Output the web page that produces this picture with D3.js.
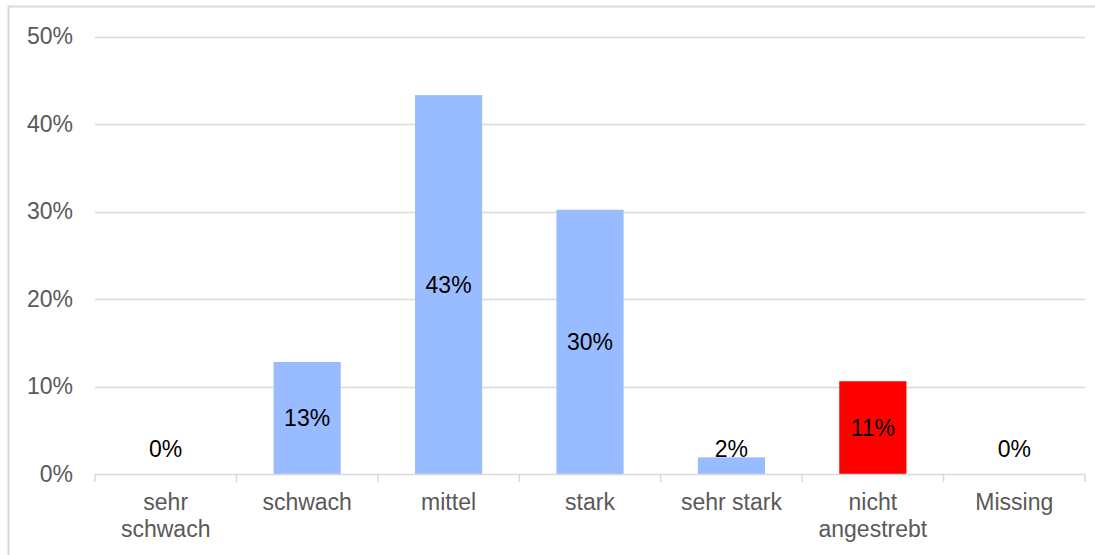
<!DOCTYPE html>
<html>
<head>
<meta charset="utf-8">
<script src="https://cdn.jsdelivr.net/npm/d3@7/dist/d3.min.js"></script>
<style>
  html, body { margin: 0; padding: 0; background: #fff; }
  svg { display: block; font-family: "Liberation Sans", Arial, sans-serif; }
</style>
</head>
<body>
<svg id="chart" width="1095" height="555"></svg>
<script>
// Share of responses per category
const categories = ["sehr schwach", "schwach", "mittel", "stark", "sehr stark", "nicht angestrebt", "Missing"];
const categoryLines = [["sehr", "schwach"], ["schwach"], ["mittel"], ["stark"], ["sehr stark"], ["nicht", "angestrebt"], ["Missing"]];
const shares = [0, 0.128, 0.433, 0.302, 0.019, 0.106, 0];
const highlighted = ["nicht angestrebt"];
const yTicks = [0, 0.1, 0.2, 0.3, 0.4, 0.5];

const svg = d3.select("#chart");
const W = 1095, H = 555;
const plot = { left: 95, right: 1085, top: 36.5, bottom: 474 };
const fontSize = 23;

// outer frame
svg.append("rect")
  .attr("x", 8.5).attr("y", 6.5)
  .attr("width", W + 10).attr("height", H + 10)
  .attr("fill", "none").attr("stroke", "#d9d9d9").attr("stroke-width", 2);

const x = d3.scaleBand().domain(categories).range([plot.left, plot.right])
  .paddingInner(0.525).paddingOuter(0.2625);
const y = d3.scaleLinear().domain([0, 0.5]).range([plot.bottom, plot.top]);
const fmt = d3.format(".0%");

// horizontal gridlines
svg.append("g").selectAll("line")
  .data(yTicks.filter(d => d > 0))
  .join("line")
  .attr("x1", plot.left).attr("x2", plot.right)
  .attr("y1", d => Math.round(y(d)) + 0.5).attr("y2", d => Math.round(y(d)) + 0.5)
  .attr("stroke", "#d9d9d9").attr("stroke-width", 1.3);

// y axis labels
const yAxis = d3.axisLeft(y).tickValues(yTicks).tickFormat(fmt).tickSize(0).tickPadding(22);
const gy = svg.append("g").attr("transform", `translate(${plot.left},0)`).call(yAxis);
gy.select(".domain").remove();
gy.selectAll("text").attr("font-size", fontSize).attr("fill", "#595959")
  .attr("font-family", "Liberation Sans, Arial, sans-serif");

// bars
svg.append("g").selectAll("rect")
  .data(categories.map((c, i) => ({ c, v: shares[i] })))
  .join("rect")
  .attr("x", d => x(d.c))
  .attr("width", x.bandwidth())
  .attr("y", d => y(d.v))
  .attr("height", d => plot.bottom - y(d.v))
  .attr("fill", d => highlighted.includes(d.c) ? "#ff0000" : "#99bbff");

// x axis with ticks at category boundaries
const step = x.step();
const gx = svg.append("g");
gx.append("line").attr("x1", plot.left).attr("x2", plot.right)
  .attr("y1", plot.bottom + 0.5).attr("y2", plot.bottom + 0.5)
  .attr("stroke", "#d9d9d9").attr("stroke-width", 1.5);
gx.selectAll("line.tick")
  .data(d3.range(categories.length + 1))
  .join("line").attr("class", "tick")
  .attr("x1", i => plot.left + i * step).attr("x2", i => plot.left + i * step)
  .attr("y1", plot.bottom).attr("y2", plot.bottom + 8)
  .attr("stroke", "#d9d9d9").attr("stroke-width", 1.5);

const labels = gx.selectAll("text")
  .data(categories.map((c, i) => ({ c, lines: categoryLines[i] })))
  .join("text")
  .attr("text-anchor", "middle")
  .attr("font-size", fontSize).attr("fill", "#595959")
  .attr("x", d => x(d.c) + x.bandwidth() / 2)
  .attr("y", plot.bottom + 36);
labels.selectAll("tspan")
  .data(d => d.lines.map(t => ({ t, xc: x(d.c) + x.bandwidth() / 2 })))
  .join("tspan")
  .attr("x", d => d.xc)
  .attr("dy", (d, i) => i === 0 ? 0 : 26.5)
  .text(d => d.t);

// value labels, centred in each bar, kept above the baseline for short bars
svg.append("g").selectAll("text")
  .data(categories.map((c, i) => ({ c, v: shares[i] })))
  .join("text")
  .attr("text-anchor", "middle")
  .attr("font-size", fontSize).attr("fill", "#000")
  .attr("x", d => x(d.c) + x.bandwidth() / 2)
  .attr("y", d => Math.min((y(d.v) + plot.bottom) / 2 + 8, plot.bottom - 17))
  .text(d => fmt(d.v));
</script>
</body>
</html>
